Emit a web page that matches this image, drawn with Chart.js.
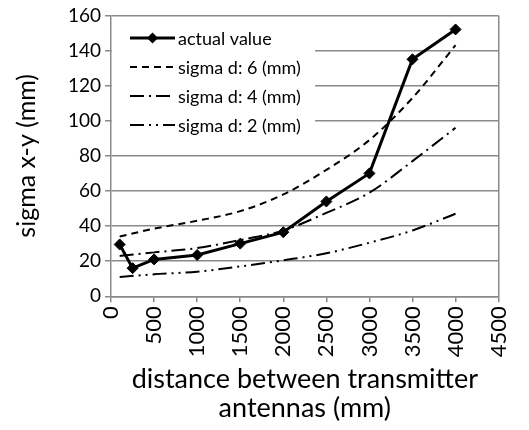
<!DOCTYPE html>
<html>
<head>
<meta charset="utf-8">
<script src="https://cdn.jsdelivr.net/npm/chart.js@4"></script>
<style>
  html, body { margin: 0; padding: 0; background: #fff; }
</style>
</head>
<body>
<canvas id="chart" width="529" height="430"></canvas>
<script>
// values
const distances = [100, 250, 500, 1000, 1500, 2000, 2500, 3000, 3500, 4000];
const actualValue = [29.5, 16, 21, 23.5, 30, 36.5, 54, 70, 135, 152];

const sigmaDistances = [100, 500, 1000, 1500, 2000, 2500, 3000, 3500, 4000];
const sigma6 = [34, 38.5, 43, 48.5, 58, 72, 89, 113, 143];
const sigma4 = [23, 25, 27.5, 32, 37.5, 47.5, 59, 77, 96];
const sigma2 = [11, 12.5, 14, 17, 20.5, 24.5, 30.5, 37.5, 47];

const xTicks = [0, 500, 1000, 1500, 2000, 2500, 3000, 3500, 4000, 4500];

const FONT = 'Lato';
const GRID = '#8a8a8a';

function pairs(xs, ys) {
  return xs.map((x, i) => ({ x: x, y: ys[i] }))
}

// legend drawn inside the plot, with the line style of each dataset
const insideLegend = {
  id: 'insideLegend',
  afterDraw(chart) {
    const ctx = chart.ctx
    const area = chart.chartArea
    ctx.save()
    ctx.fillStyle = '#fff'
    ctx.fillRect(area.left + 1, 21, 203, 116)
    ctx.font = '18px ' + FONT
    ctx.textBaseline = 'middle'
    chart.data.datasets.forEach((ds, i) => {
      const y = 38 + i * 29
      const x0 = 130, x1 = 175
      ctx.strokeStyle = ds.borderColor
      ctx.lineWidth = ds.borderWidth
      ctx.setLineDash(ds.borderDash || [])
      ctx.beginPath()
      ctx.moveTo(x0, y)
      ctx.lineTo(x1, y)
      ctx.stroke()
      ctx.setLineDash([])
      if (ds.pointRadius > 0) {
        const r = ds.pointRadius
        const cx = (x0 + x1) / 2
        ctx.fillStyle = ds.pointBackgroundColor
        ctx.beginPath()
        ctx.moveTo(cx, y - r)
        ctx.lineTo(cx + r, y)
        ctx.lineTo(cx, y + r)
        ctx.lineTo(cx - r, y)
        ctx.closePath()
        ctx.fill()
      }
      ctx.fillStyle = '#000'
      ctx.fillText(ds.label, x1 + 3, y + 1)
    })
    ctx.restore()
  }
}

new Chart(document.getElementById('chart'), {
  type: 'line',
  data: {
    datasets: [
      {
        label: 'actual value',
        data: pairs(distances, actualValue),
        borderColor: '#000',
        borderWidth: 3,
        pointStyle: 'rectRot',
        pointRadius: 5.5,
        pointBackgroundColor: '#000',
        pointBorderColor: '#000',
        pointBorderWidth: 1,
      },
      {
        label: 'sigma d: 6 (mm)',
        data: pairs(sigmaDistances, sigma6),
        borderColor: '#000',
        borderWidth: 2,
        borderDash: [7, 5],
        pointRadius: 0,
        cubicInterpolationMode: 'monotone',
      },
      {
        label: 'sigma d: 4 (mm)',
        data: pairs(sigmaDistances, sigma4),
        borderColor: '#000',
        borderWidth: 2,
        borderDash: [14, 5, 2, 5],
        pointRadius: 0,
        cubicInterpolationMode: 'monotone',
      },
      {
        label: 'sigma d: 2 (mm)',
        data: pairs(sigmaDistances, sigma2),
        borderColor: '#000',
        borderWidth: 2,
        borderDash: [14, 5, 2, 5, 2, 5],
        pointRadius: 0,
        cubicInterpolationMode: 'monotone',
      },
    ]
  },
  options: {
    responsive: false,
    animation: false,
    devicePixelRatio: 1,
    layout: { padding: { left: 12, right: 26, top: 12, bottom: 8 } },
    plugins: {
      legend: { display: false },
      tooltip: { enabled: false },
    },
    scales: {
      x: {
        type: 'linear',
        min: 0,
        max: 4500,
        afterBuildTicks: axis => { axis.ticks = xTicks.map(v => ({ value: v })) },
        ticks: {
          color: '#000',
          font: { family: FONT, size: 22 },
          minRotation: 90,
          maxRotation: 90,
          padding: 4,
          callback: v => String(v),
        },
        grid: {
          color: c => (c.tick && c.tick.value === 4500) ? GRID : 'rgba(0,0,0,0)',
          tickColor: GRID,
          lineWidth: 1.5,
          tickLength: 6,
        },
        border: { color: GRID, width: 1.5 },
        title: {
          display: true,
          text: ['distance between transmitter', 'antennas (mm)'],
          color: '#000',
          font: { family: FONT, size: 27, lineHeight: 1.05 },
          padding: { top: 4, bottom: 0 },
        },
      },
      y: {
        min: 0,
        max: 160,
        ticks: {
          stepSize: 20,
          color: '#000',
          font: { family: FONT, size: 19 },
          padding: 4,
        },
        grid: {
          color: GRID,
          lineWidth: 1.5,
          tickLength: 6,
        },
        border: { color: GRID, width: 1.5 },
        title: {
          display: true,
          text: 'sigma x-y (mm)',
          color: '#000',
          font: { family: FONT, size: 25 },
          padding: { top: 0, bottom: 22 },
        },
      },
    },
  },
  plugins: [insideLegend],
})
</script>
</body>
</html>
